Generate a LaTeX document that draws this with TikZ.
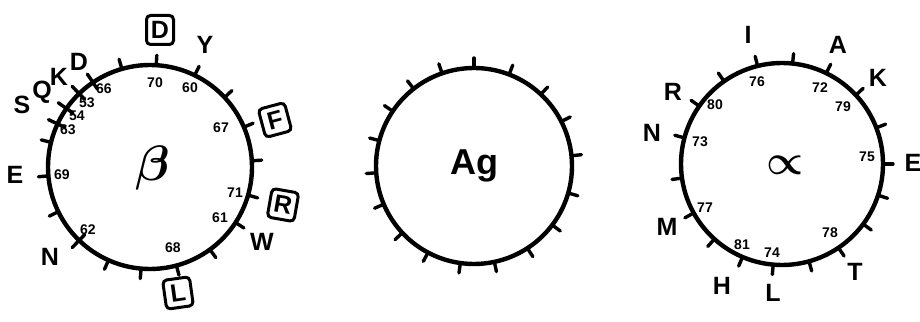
\documentclass[tikz,border=0pt]{standalone}
\usepackage{amsmath}
\usepackage{fontspec}
\setmainfont{Liberation Sans}

\begin{document}
\begin{tikzpicture}[x=0.5pt, y=0.5pt,
    ring/.style={line width=2.2pt},
    tic/.style={line width=1.7pt, line cap=round},
    res/.style={font=\fontsize{12.5}{14}\selectfont\bfseries, inner sep=0pt},
    boxres/.style={res, draw, line width=1.5pt, rounded corners=2pt, minimum width=13.5pt, minimum height=14.5pt},
    num/.style={font=\fontsize{7}{8}\selectfont\bfseries, inner sep=0pt}]

    \useasboundingbox (0,0) rectangle (920,321);

    % beta
    \coordinate (cb) at (150,154);
    \draw[ring] (cb) circle[radius=102];
    \foreach \a in {86.5,106,64,43,23,3.5,-16,-33,-54,-75,-95,-114,-154,-175,166}
        \draw[tic] (cb) ++(\a:102) -- ++(\a:10);
    \foreach \a in {124,134,145,155,-134}
        \draw[tic] (cb) ++(\a:94) -- ++(\a:18);
    \node (beta) at (153,153) {\fontsize{26}{28}\selectfont$\boldsymbol{\beta}$};

    \node[boxres] (bD) at (160,291) {D};
    \node[res] (bY) at (205,276) {Y};
    \node[boxres, rotate=15] (bF) at (275,201) {F};
    \node[boxres, rotate=-10] (bR) at (283,116) {R};
    \node[res] (bW) at (262,79) {W};
    \node[boxres, rotate=8] (bL) at (178,28) {L};
    \node[res] (bN) at (50,64) {N};
    \node[res] (bE) at (15,146) {E};
    \node[res] (bS) at (22,216) {S};
    \node[res] (bQ) at (42,229) {Q};
    \node[res] (bK) at (59,244) {K};
    \node[res] (bD2) at (79,259) {D};

    \node[num] (b70) at (155,238) {70};
    \node[num] (b60) at (190,233) {60};
    \node[num] (b67) at (221,193) {67};
    \node[num] (b71) at (235,128) {71};
    \node[num] (b61) at (220,103) {61};
    \node[num] (b68) at (173,73) {68};
    \node[num] (b62) at (88,91) {62};
    \node[num] (b69) at (62,146) {69};
    \node[num] (b66) at (104,232) {66};
    \node[num] (b53) at (87,218) {53};
    \node[num] (b54) at (77,205) {54};
    \node[num] (b63) at (68,191) {63};

    % Ag
    \coordinate (cg) at (474,155);
    \draw[ring] (cg) circle[radius=98];
    \foreach \a in {90,69,47,27,6,-16,-37,-57,-78,-98,-118,-137,-157,-176,165,146,128,109}
        \draw[tic] (cg) ++(\a:98) -- ++(\a:10);
    \node[font=\fontsize{18}{20}\selectfont\bfseries] (ag) at (cg) {Ag};

    % alpha
    \coordinate (ca) at (782,157);
    \draw[ring] (ca) circle[radius=101];
    \foreach \a in {104,84,64,43,21,0,-18,-36.5,-56,-74.5,-95,-113,-132,-151,-172,165,145,125}
        \draw[tic] (ca) ++(\a:101) -- ++(\a:10);
    \node (alpha) at (785,156) {\fontsize{22}{24}\selectfont$\boldsymbol{\propto}$};

    \node[res] (aI) at (748,286) {I};
    \node[res] (aA) at (838,276) {A};
    \node[res] (aK) at (878,243) {K};
    \node[res] (aE) at (913,158) {E};
    \node[res] (aT) at (855,49) {T};
    \node[res] (aL) at (773,28) {L};
    \node[res] (aH) at (722,35) {H};
    \node[res] (aM) at (667,94) {M};
    \node[res] (aN) at (652,188) {N};
    \node[res] (aR) at (673,229) {R};

    \node[num] (a76) at (757,239) {76};
    \node[num] (a72) at (820,233) {72};
    \node[num] (a79) at (843,214) {79};
    \node[num] (a80) at (715,216) {80};
    \node[num] (a73) at (700,179) {73};
    \node[num] (a75) at (867,164) {75};
    \node[num] (a77) at (705,113) {77};
    \node[num] (a81) at (742,76) {81};
    \node[num] (a74) at (772,68) {74};
    \node[num] (a78) at (830,88) {78};
\end{tikzpicture}
\end{document}
